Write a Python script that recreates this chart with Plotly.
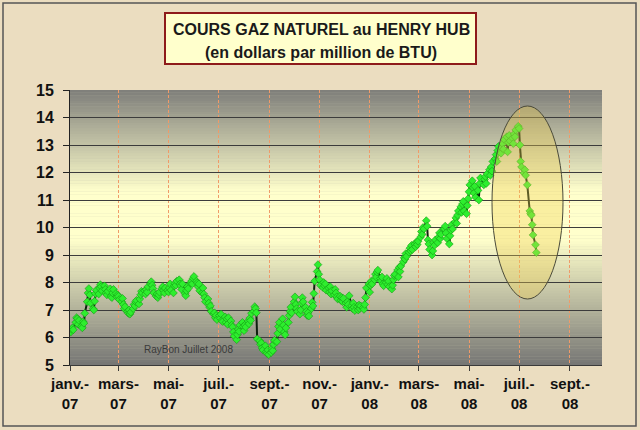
import numpy as np
import pandas as pd
import plotly.graph_objects as go

# ---------------- data ----------------
month_first = ["2007-01-01", "2007-02-01", "2007-03-01", "2007-04-01", "2007-05-01", "2007-06-01",
               "2007-07-01", "2007-08-01", "2007-09-01", "2007-10-01", "2007-11-01", "2007-12-01",
               "2008-01-01", "2008-02-01", "2008-03-01", "2008-04-01", "2008-05-01", "2008-06-01",
               "2008-07-01"]
last_date = "2008-07-22"

jan07 = [6.25, 6.20, 6.30, 6.35, 6.28, 6.55, 6.72, 6.68, 6.48, 6.62, 6.40, 6.35, 6.58, 6.52, 6.88,
         7.30, 7.62, 7.78, 7.55, 7.25, 7.05, 7.00, 7.32]
feb07 = [7.60, 7.72, 7.58, 7.80, 7.92, 7.85, 7.70, 7.88, 7.75, 7.62, 7.55, 7.68, 7.77, 7.50, 7.45,
         7.62, 7.75, 7.60, 7.48, 7.55]
mar07 = [7.50, 7.38, 7.30, 7.42, 7.20, 7.05, 7.12, 6.95, 6.88, 7.00, 6.85, 6.92, 7.05, 7.20, 7.15,
         7.30, 7.35, 7.22, 7.40, 7.55, 7.68, 7.62]
apr07 = [7.70, 7.58, 7.75, 7.65, 7.85, 7.95, 8.03, 7.90, 7.78, 7.62, 7.50, 7.58, 7.45, 7.55, 7.65,
         7.78, 7.85, 7.70, 7.62, 7.80, 7.72]
may07 = [7.65, 7.80, 7.95, 7.72, 7.62, 7.88, 7.97, 7.90, 8.05, 8.10, 7.95, 7.88, 7.75, 7.95, 7.60,
         7.52, 7.70, 7.85, 7.78, 7.98, 8.05, 7.95, 8.15]
jun07 = [8.22, 8.05, 7.98, 7.85, 7.95, 7.70, 7.62, 7.80, 7.58, 7.45, 7.30, 7.40, 7.25, 7.10, 7.15,
         6.95, 6.85, 6.90, 6.72, 6.80, 6.65]
jul07 = [6.80, 6.70, 6.85, 6.62, 6.58, 6.75, 6.55, 6.68, 6.48, 6.72, 6.60, 6.45, 6.38, 6.20, 6.05,
         5.92, 6.10, 6.30, 6.22, 6.45, 6.55, 6.40]
aug07 = [6.25, 6.45, 6.38, 6.60, 6.50, 6.70, 6.62, 6.88, 6.95, 7.12, 7.05, 6.90, 5.95, 5.88, 5.75,
         5.80, 5.62, 5.55, 5.70, 5.48, 5.42, 5.55, 5.38]
sep07 = [5.45, 5.60, 5.52, 5.75, 5.90, 5.85, 6.15, 6.40, 6.55, 6.30, 6.68, 6.45, 6.20, 6.10, 6.35,
         6.55, 6.80, 6.95, 7.10, 6.90]
oct07 = [7.30, 7.48, 7.20, 7.05, 6.95, 6.85, 7.00, 7.25, 7.45, 7.30, 7.10, 6.95, 6.80, 6.90, 6.78,
         7.05, 7.28, 7.15, 7.60, 8.05, 8.40, 8.65, 8.30]
nov07 = [8.10, 7.90, 7.82, 8.00, 7.88, 7.95, 7.72, 7.80, 7.65, 7.85, 7.58, 7.70, 7.55, 7.75, 7.62,
         7.48, 7.40, 7.50, 7.35, 7.45, 7.30, 7.42]
dec07 = [7.25, 7.10, 7.30, 7.20, 7.52, 7.15, 7.05, 7.25, 7.10, 6.98, 7.12, 7.00, 7.18, 7.05, 7.15,
         7.08, 7.02, 7.20, 7.45, 7.80, 7.95]
jan08 = [7.65, 7.90, 8.05, 7.95, 8.10, 8.30, 8.20, 8.38, 8.45, 8.15, 8.05, 8.20, 7.95, 7.88, 8.00,
         8.15, 7.92, 8.05, 7.85, 7.76, 7.90, 8.10, 8.25]
feb08 = [8.30, 8.45, 8.20, 8.55, 8.40, 8.60, 8.75, 8.90, 8.85, 9.05, 8.95, 9.10, 9.25, 9.15, 9.35,
         9.20, 9.40, 9.30, 9.48, 9.38, 9.50]
mar08 = [9.65, 9.85, 9.75, 10.00, 9.95, 10.25, 10.05, 9.55, 9.40, 9.20, 9.00, 9.15, 9.45, 9.35, 9.55,
         9.45, 9.65, 9.80, 9.60, 9.75, 9.95]
apr08 = [9.95, 10.05, 9.80, 9.60, 9.40, 9.70, 9.90, 10.10, 9.95, 10.20, 10.35, 10.15, 10.45, 10.60,
         10.75, 10.55, 10.85, 10.95, 10.60, 10.50, 10.80, 11.05]
may08 = [11.30, 11.55, 11.70, 11.45, 11.25, 11.50, 11.10, 11.35, 11.00, 11.60, 11.80, 11.55, 11.75,
         11.85, 11.60, 11.95, 12.10, 11.90, 12.20, 12.05, 12.40]
jun08 = [12.50, 12.65, 12.40, 12.80, 12.95, 12.70, 12.90, 13.05, 12.85, 13.20, 13.30, 12.75, 13.10,
         13.35, 13.15, 13.25, 13.05, 13.40, 13.30, 13.55, 13.68]
jul08 = [13.60, 13.00, 12.40, 12.20, 11.98, 12.10, 11.90, 11.55, 10.60, 10.50, 10.45, 10.10, 9.73,
         9.37, 9.09]

monthly_prices = [jan07, feb07, mar07, apr07, may07, jun07, jul07, aug07, sep07, oct07, nov07, dec07,
                  jan08, feb08, mar08, apr08, may08, jun08, jul08]

tick_dates = ["2007-01-01", "2007-03-01", "2007-05-01", "2007-07-01", "2007-09-01", "2007-11-01",
              "2008-01-01", "2008-03-01", "2008-05-01", "2008-07-01", "2008-09-01"]
tick_text = ["janv.-<br>07", "mars-<br>07", "mai-<br>07", "juil.-<br>07", "sept.-<br>07", "nov.-<br>07",
             "janv.-<br>08", "mars-<br>08", "mai-<br>08", "juil.-<br>08", "sept.-<br>08"]
y_ticks = list(range(5, 16))

title_line1 = "COURS GAZ NATUREL au HENRY HUB"
title_line2 = "(en dollars par million de BTU)"
credit_text = "RayBon Juillet 2008"

# ---------------- build the daily series ----------------
dates, prices = [], []
end_all = pd.Timestamp(last_date)
for start, vals in zip(month_first, monthly_prices):
    s = pd.Timestamp(start)
    e = min(s + pd.offsets.MonthEnd(0), end_all)
    b = pd.bdate_range(s, e)
    idx = np.round(np.linspace(0, len(b) - 1, len(vals))).astype(int)
    dates += list(b[idx])
    prices += vals

# ---------------- figure ----------------
W, H = 640, 430
ML, MR, MT, MB = 70, 38, 90, 65
pw, ph = W - ML - MR, H - MT - MB


def px2paper_x(px):
    return (px - ML) / pw


def px2paper_y(py):
    return (H - MB - py) / ph


fig = go.Figure()
fig.add_trace(go.Scatter(
    x=dates, y=prices, mode="lines+markers",
    line=dict(color="#0F1F0F", width=2),
    marker=dict(symbol="diamond", size=6, color="#2EEE2E", line=dict(color="#149A14", width=0.6)),
    hoverinfo="x+y", showlegend=False,
))

shapes = []
# plot-area vertical gradient (gray - pale yellow - gray)
stops = [(15.0, (126, 126, 122)), (11.3, (255, 255, 204)), (9.6, (255, 255, 204)), (5.0, (118, 118, 116))]


def grad_color(v):
    for (v0, c0), (v1, c1) in zip(stops[:-1], stops[1:]):
        if v1 <= v <= v0:
            t = (v0 - v) / (v0 - v1)
            return "rgb(%d,%d,%d)" % tuple(round(a + (b_ - a) * t) for a, b_ in zip(c0, c1))
    return "rgb(128,128,128)"


n_strips = 100
for i in range(n_strips):
    y0 = 5 + 10 * i / n_strips
    y1 = 5 + 10 * (i + 1) / n_strips
    shapes.append(dict(type="rect", xref="x domain", yref="y", x0=0, x1=1, y0=y0, y1=y1 + 0.01,
                       fillcolor=grad_color((y0 + y1) / 2), line=dict(width=0), layer="below"))

# outer frame
shapes.append(dict(type="rect", xref="paper", yref="paper",
                   x0=px2paper_x(3), x1=px2paper_x(636), y0=px2paper_y(426), y1=px2paper_y(3),
                   line=dict(color="#555555", width=1.5), fillcolor="rgba(0,0,0,0)", layer="below"))
# title box
shapes.append(dict(type="rect", xref="paper", yref="paper",
                   x0=px2paper_x(165), x1=px2paper_x(476), y0=px2paper_y(64), y1=px2paper_y(13),
                   line=dict(color="#8E1B1B", width=2), fillcolor="#FFFFCC", layer="below"))
# highlighting ellipse
shapes.append(dict(type="circle", xref="paper", yref="paper",
                   x0=px2paper_x(492), x1=px2paper_x(563), y0=px2paper_y(299), y1=px2paper_y(106),
                   line=dict(color="#4A4A3A", width=1), fillcolor="rgba(240,210,80,0.35)", layer="above"))

annotations = [
    dict(text="<b>%s</b>" % title_line1, xref="paper", yref="paper", x=px2paper_x(321), y=px2paper_y(30),
         showarrow=False, font=dict(family="Liberation Sans, Arial", size=16, color="#1A1A1A"),
         xanchor="center", yanchor="middle"),
    dict(text="<b>%s</b>" % title_line2, xref="paper", yref="paper", x=px2paper_x(321), y=px2paper_y(52),
         showarrow=False, font=dict(family="Liberation Sans, Arial", size=16, color="#1A1A1A"),
         xanchor="center", yanchor="middle"),
    dict(text=credit_text, xref="paper", yref="paper", x=px2paper_x(188), y=px2paper_y(349),
         showarrow=False, font=dict(family="Liberation Sans, Arial", size=10, color="#3A3A3A"),
         xanchor="center", yanchor="middle"),
]

fig.update_layout(
    width=W, height=H,
    margin=dict(l=ML, r=MR, t=MT, b=MB),
    paper_bgcolor="#EBDDC0",
    plot_bgcolor="#BDBDA8",
    shapes=shapes,
    annotations=annotations,
    showlegend=False,
    xaxis=dict(
        type="date",
        range=["2007-01-01", "2008-10-10"],
        tickvals=tick_dates, ticktext=tick_text,
        tickfont=dict(family="Liberation Sans, Arial", size=15, color="#111111", weight="bold"),
        showgrid=True, gridcolor="#F09A68", gridwidth=1, griddash="3px,2px",
        showline=True, linecolor="#3A3A3A", linewidth=1,
        ticks="outside", ticklen=5, tickcolor="#3A3A3A",
        zeroline=False, fixedrange=True, automargin=False,
    ),
    yaxis=dict(
        range=[5, 15], tickvals=y_ticks,
        tickfont=dict(family="Liberation Sans, Arial", size=16, color="#111111", weight="bold"),
        showgrid=True, gridcolor="#3C3C3C", gridwidth=1,
        showline=True, linecolor="#222222", linewidth=1,
        ticks="outside", ticklen=6, tickcolor="#222222",
        ticklabelstandoff=6,
        zeroline=False, fixedrange=True, automargin=False,
    ),
)

fig.write_html("out.html",
               config={"displayModeBar": False},
               post_script="document.body.style.margin='0px';document.body.style.padding='0px';"
                           "document.body.style.overflow='hidden';")
